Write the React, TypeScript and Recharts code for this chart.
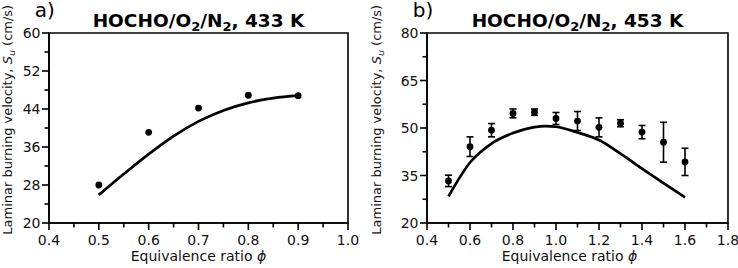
import { ComposedChart, ErrorBar, Line, ReferenceArea, Scatter, XAxis, YAxis } from "recharts";

const FONT = "'DejaVu Sans', Verdana, sans-serif";

// a) HOCHO/O2/N2 at 433 K
const phiA = [0.5, 0.6, 0.7, 0.8, 0.9];
const suA = [28.0, 39.1, 44.2, 46.9, 46.8];
const modelPhiA = [0.5, 0.55, 0.6, 0.65, 0.7, 0.75, 0.8, 0.85, 0.9];
const modelSuA = [25.9, 30.3, 34.5, 38.3, 41.4, 43.7, 45.3, 46.3, 46.8];
const xMajorA = [0.4, 0.5, 0.6, 0.7, 0.8, 0.9, 1.0];
const xMinorA = [0.45, 0.55, 0.65, 0.75, 0.85, 0.95];
const yMajorA = [20, 28, 36, 44, 52, 60];
const yMinorA = [24, 32, 40, 48, 56];

// b) HOCHO/O2/N2 at 453 K, with measurement uncertainty
const phiB = [0.5, 0.6, 0.7, 0.8, 0.9, 1.0, 1.1, 1.2, 1.3, 1.4, 1.5, 1.6];
const suB = [33.3, 44.1, 49.3, 54.6, 55.0, 53.0, 52.2, 50.2, 51.5, 48.7, 45.5, 39.3];
const errB = [1.8, 3.1, 2.1, 1.4, 1.0, 1.9, 3.0, 3.0, 1.1, 2.1, 6.3, 4.3];
const modelPhiB = [0.5, 0.6, 0.7, 0.8, 0.9, 0.95, 1.0, 1.1, 1.2, 1.3, 1.4, 1.5, 1.6];
const modelSuB = [28.4, 39.1, 45.1, 48.4, 50.3, 50.6, 50.4, 48.6, 46.2, 41.9, 37.2, 32.6, 28.1];
const xMajorB = [0.4, 0.6, 0.8, 1.0, 1.2, 1.4, 1.6, 1.8];
const xMinorB = [0.5, 0.7, 0.9, 1.1, 1.3, 1.5, 1.7];
const yMajorB = [20, 35, 50, 65, 80];
const yMinorB = [27.5, 42.5, 57.5, 72.5];

const near = (list: number[], v: number) => list.some((t) => Math.abs(t - v) < 1e-6);

function XTick({ x, y, payload, major }: any) {
  const isMajor = near(major, payload.value);
  return (
    <g>
      <line x1={x} x2={x} y1={y} y2={y + (isMajor ? 7 : 4.5)} stroke="#000" strokeWidth={1.6} />
      {isMajor && (
        <text x={x} y={y + 22} textAnchor="middle" fontSize={14} fontFamily={FONT} fill="#111">
          {Number(payload.value).toFixed(1)}
        </text>
      )}
    </g>
  );
}

function YTick({ x, y, payload, major }: any) {
  const isMajor = near(major, payload.value);
  return (
    <g>
      <line x1={x - (isMajor ? 7 : 4.5)} x2={x} y1={y} y2={y} stroke="#000" strokeWidth={1.6} />
      {isMajor && (
        <text x={x - 8.5} y={y} dy="0.36em" textAnchor="end" fontSize={14} fontFamily={FONT} fill="#111">
          {String(payload.value)}
        </text>
      )}
    </g>
  );
}

type PanelProps = {
  letter: string;
  temp: string;
  phi: number[];
  su: number[];
  err?: number[];
  modelPhi: number[];
  modelSu: number[];
  xMajor: number[];
  xMinor: number[];
  yMajor: number[];
  yMinor: number[];
  yAxisWidth: number;
  rightMargin: number;
  xLabelDx: number;
};

function Panel(p: PanelProps) {
  const points = p.phi.map((x, i) => ({ x, y: p.su[i], err: p.err ? p.err[i] : 0 }));
  const model = p.modelPhi.map((x, i) => ({ x, y: p.modelSu[i] }));
  const xTicks = [...p.xMajor, ...p.xMinor].sort((a, b) => a - b);
  const yTicks = [...p.yMajor, ...p.yMinor].sort((a, b) => a - b);
  const xDomain = [p.xMajor[0], p.xMajor[p.xMajor.length - 1]];
  const yDomain = [p.yMajor[0], p.yMajor[p.yMajor.length - 1]];

  return (
    <ComposedChart
      width={369}
      height={268}
      margin={{ top: 33, right: p.rightMargin, bottom: 0, left: 0 }}
    >
      <XAxis
        dataKey="x"
        type="number"
        domain={xDomain}
        ticks={xTicks}
        interval={0}
        height={45}
        tickSize={0}
        tickMargin={0}
        tickLine={false}
        axisLine={{ stroke: "#000", strokeWidth: 1.6 }}
        tick={(t: any) => <XTick {...t} major={p.xMajor} />}
        label={(l: any) => {
          const vb = l.viewBox;
          return (
            <text
              x={vb.x + vb.width / 2 + p.xLabelDx}
              y={vb.y + 38}
              textAnchor="middle"
              fontSize={14}
              fontFamily={FONT}
              fill="#111"
            >
              {"Equivalence ratio "}
              <tspan fontStyle="italic">ϕ</tspan>
            </text>
          );
        }}
      />
      <YAxis
        dataKey="y"
        type="number"
        domain={yDomain}
        ticks={yTicks}
        interval={0}
        width={p.yAxisWidth}
        tickSize={0}
        tickMargin={0}
        tickLine={false}
        axisLine={{ stroke: "#000", strokeWidth: 1.6 }}
        tick={(t: any) => <YTick {...t} major={p.yMajor} />}
        label={(l: any) => {
          const vb = l.viewBox;
          const bx = vb.x + 12;
          const by = vb.y + vb.height + 11.7;
          return (
            <text
              transform={`translate(${bx} ${by}) rotate(-90)`}
              fontSize={13}
              fontFamily={FONT}
              fill="#111"
            >
              {"Laminar burning velocity, "}
              <tspan fontStyle="italic">S</tspan>
              <tspan fontStyle="italic" fontSize={9.5} dy={3}>u</tspan>
              <tspan dy={-3}>{" (cm/s)"}</tspan>
            </text>
          );
        }}
      />
      {/* plot frame, carrying the panel letter and title */}
      <ReferenceArea
        x1={xDomain[0]}
        x2={xDomain[1]}
        y1={yDomain[0]}
        y2={yDomain[1]}
        fill="none"
        fillOpacity={0}
        stroke="#000"
        strokeWidth={1.6}
        label={(l: any) => {
          const vb = l.viewBox;
          return (
            <g fontFamily={FONT} fill="#000">
              <text x={vb.x - 14.3} y={vb.y - 16} fontSize={20}>
                {p.letter}
              </text>
              <text
                x={vb.x + vb.width / 2}
                y={vb.y - 6.5}
                textAnchor="middle"
                fontSize={18.5}
                fontWeight="bold"
              >
                {"HOCHO/O"}
                <tspan fontSize={13} dy={4}>2</tspan>
                <tspan dy={-4}>/N</tspan>
                <tspan fontSize={13} dy={4}>2</tspan>
                <tspan dy={-4}>{`, ${p.temp}`}</tspan>
              </text>
            </g>
          );
        }}
      />
      <Line
        data={model}
        dataKey="y"
        type="monotone"
        stroke="#000"
        strokeWidth={2.7}
        dot={false}
        activeDot={false}
        isAnimationActive={false}
      />
      <Scatter
        data={points}
        dataKey="y"
        fill="#000"
        isAnimationActive={false}
        shape={(s: any) => <circle cx={s.cx} cy={s.cy} r={3.4} fill="#000" />}
      >
        {p.err && (
          <ErrorBar
            dataKey="err"
            direction="y"
            width={3.5}
            stroke="#000"
            strokeWidth={1.6}
            isAnimationActive={false}
          />
        )}
      </Scatter>
    </ComposedChart>
  );
}

export default function App() {
  return (
    <div
      style={{
        position: "absolute",
        left: 0,
        top: 0,
        width: 738,
        height: 268,
        display: "flex",
        background: "#fff",
        fontFamily: FONT,
      }}
    >
      <Panel
        letter="a)"
        temp="433 K"
        phi={phiA}
        su={suA}
        modelPhi={modelPhiA}
        modelSu={modelSuA}
        xMajor={xMajorA}
        xMinor={xMinorA}
        yMajor={yMajorA}
        yMinor={yMinorA}
        yAxisWidth={49}
        rightMargin={21}
        xLabelDx={0}
      />
      <Panel
        letter="b)"
        temp="453 K"
        phi={phiB}
        su={suB}
        err={errB}
        modelPhi={modelPhiB}
        modelSu={modelSuB}
        xMajor={xMajorB}
        xMinor={xMinorB}
        yMajor={yMajorB}
        yMinor={yMinorB}
        yAxisWidth={58}
        rightMargin={10}
        xLabelDx={-8}
      />
    </div>
  );
}
